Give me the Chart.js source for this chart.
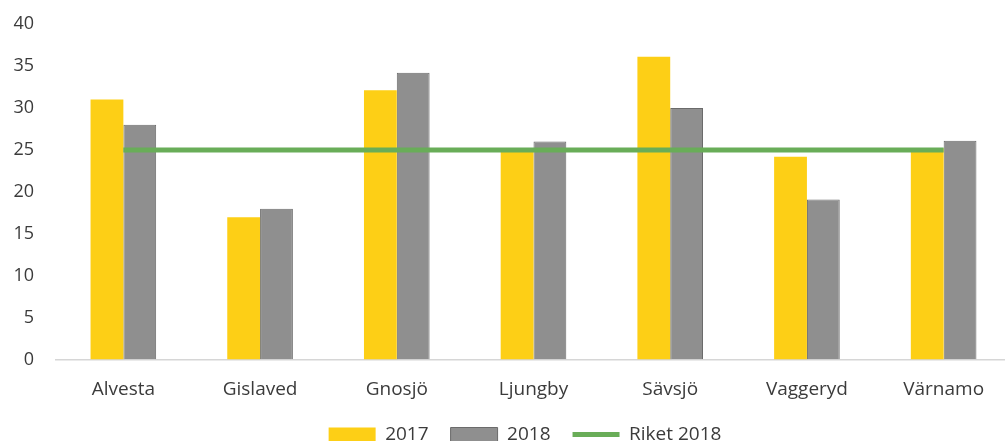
<!DOCTYPE html>
<html>
<head>
<meta charset="utf-8">
<script src="https://cdn.jsdelivr.net/npm/chart.js@4/dist/chart.umd.min.js"></script>
<style>
  html, body { margin: 0; padding: 0; background: #ffffff; overflow: hidden; }
  #wrap { width: 1005px; height: 441px; overflow: hidden; position: relative; }
  #box { width: 1012px; height: 454px; position: absolute; left: 0; top: 0; }
</style>
</head>
<body>
<div id="wrap"><div id="box"><canvas id="c"></canvas></div></div>
<script>
const categories = ['Alvesta', 'Gislaved', 'Gnosjö', 'Ljungby', 'Sävsjö', 'Vaggeryd', 'Värnamo'];
const values2017 = [31.0, 17.0, 32.1, 25.1, 36.1, 24.2, 25.2];
const values2018 = [28.0, 18.0, 34.2, 26.0, 30.0, 19.1, 26.1];
const riket2018 = [25.0, 25.0, 25.0, 25.0, 25.0, 25.0, 25.0];
const seriesNames = ['2017', '2018', 'Riket 2018'];
const yTicks = [0, 5, 10, 15, 20, 25, 30, 35, 40];

const textColor = '#3b3b3b';
const fontFamily = '"Open Sans", Lato, sans-serif';

const legendShift = {
  id: 'legendShift',
  afterLayout(chart) {
    if (chart.legend) { chart.legend.left += 19; chart.legend.right += 19; }
  }
};

new Chart(document.getElementById('c'), {
  type: 'bar',
  data: {
    labels: categories,
    datasets: [
      { label: seriesNames[0], data: values2017, backgroundColor: '#fdcf16', borderWidth: 0, pointStyle: 'rect', order: 1 },
      { label: seriesNames[1], data: values2018, backgroundColor: '#8f8f8f', borderColor: '#6b6b6b', borderWidth: 1, pointStyle: 'rect', order: 1 },
      { type: 'line', label: seriesNames[2], data: riket2018, borderColor: '#69ad58', backgroundColor: '#69ad58', borderWidth: 5, pointRadius: 0, pointStyle: 'line', order: 0, tension: 0 }
    ]
  },
  options: {
    responsive: true,
    maintainAspectRatio: false,
    animation: false,
    layout: { padding: { top: 24, left: 0, right: 0, bottom: 0 } },
    datasets: { bar: { categoryPercentage: 0.48, barPercentage: 1.0 } },
    scales: {
      x: {
        grid: { display: false }, border: { display: false },
        ticks: { color: textColor, font: { family: fontFamily, size: 19 }, padding: 10, maxRotation: 0 },
        afterFit(axis) { axis.height = 43; }
      },
      y: {
        min: 0, max: 40,
        afterBuildTicks(axis) { axis.ticks = yTicks.map(v => ({ value: v })); },
        grid: { drawTicks: false, color: ctx => (ctx.tick && ctx.tick.value === 0) ? '#d6d6d6' : 'rgba(0,0,0,0)', lineWidth: 1.5 },
        border: { display: false },
        ticks: { color: textColor, font: { family: fontFamily, size: 18 }, padding: 21 },
        afterFit(axis) { axis.width = 55; axis.paddingTop = 0; axis.paddingBottom = 0; }
      }
    },
    plugins: {
      tooltip: { enabled: false },
      legend: {
        position: 'bottom',
        labels: { usePointStyle: true, pointStyleWidth: 47, boxHeight: 14, padding: 22, color: textColor, font: { family: fontFamily, size: 19 }, sort: (a, b) => a.datasetIndex - b.datasetIndex }
      }
    }
  },
  plugins: [legendShift]
});
</script>
</body>
</html>
